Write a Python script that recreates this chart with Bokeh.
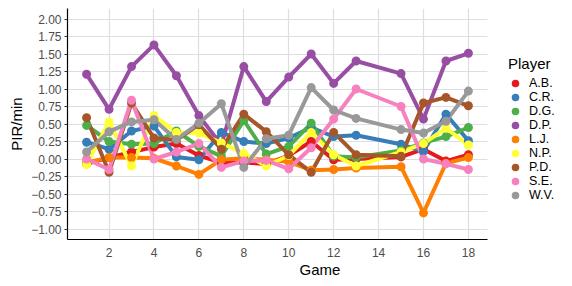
from bokeh.plotting import figure
from bokeh.models import Range1d, FixedTicker, Legend, LegendItem, BoxAnnotation
from bokeh.embed import file_html
from bokeh.resources import INLINE

# ---- data ----
games = [1, 2, 3, 4, 5, 6, 7, 8, 9, 10, 11, 12, 13, 15, 16, 17, 18]
players = ["A.B.", "C.R.", "D.G.", "D.P.", "L.J.", "N.P.", "P.D.", "S.E.", "W.V."]

ab = [-0.07, 0.02, 0.10, 0.17, 0.22, 0.05, -0.05, -0.05, -0.07, 0.05, 0.25, -0.01, 0.00, 0.03, 0.14, -0.03, 0.06]
cr = [0.24, 0.14, 0.40, 0.47, 0.03, -0.01, 0.38, 0.25, 0.22, 0.30, 0.45, 0.32, 0.34, 0.21, 0.11, 0.64, 0.26]
dg = [0.48, 0.25, 0.21, 0.22, 0.40, 0.18, 0.04, 0.55, 0.07, 0.18, 0.51, 0.04, 0.02, 0.12, 0.23, 0.32, 0.45]
dp = [1.21, 0.71, 1.32, 1.63, 1.19, 0.62, 0.20, 1.32, 0.82, 1.17, 1.50, 1.08, 1.40, 1.22, 0.57, 1.40, 1.51]
lj = [-0.05, 0.02, 0.02, 0.01, -0.10, -0.22, -0.01, 0.01, -0.01, -0.04, -0.16, -0.15, -0.13, -0.11, -0.77, -0.06, 0.02]
np_ = [-0.08, 0.53, -0.10, 0.62, 0.38, 0.37, 0.23, 0.08, -0.10, 0.05, 0.38, 0.06, -0.10, 0.10, 0.22, 0.44, 0.20]
pd_ = [0.59, -0.19, 0.80, 0.30, 0.27, 0.49, 0.14, 0.64, 0.39, 0.06, -0.19, 0.38, 0.06, 0.04, 0.80, 0.88, 0.76]
se = [0.00, -0.15, 0.84, 0.00, 0.10, 0.22, -0.12, -0.03, -0.02, -0.14, 0.16, 0.57, 1.00, 0.75, 0.00, -0.07, -0.15]
wv = [0.10, 0.39, 0.53, 0.56, 0.28, 0.51, 0.79, -0.12, 0.29, 0.34, 1.02, 0.70, 0.58, 0.42, 0.37, 0.54, 0.97]

series = [ab, cr, dg, dp, lj, np_, pd_, se, wv]
colors = ["#E41A1C", "#377EB8", "#4DAF4A", "#984EA3", "#FF7F00",
          "#FFFF33", "#A65628", "#F781BF", "#999999"]

x_ticks = [2, 4, 6, 8, 10, 12, 14, 16, 18]
y_ticks = [-1.0, -0.75, -0.5, -0.25, 0.0, 0.25, 0.5, 0.75, 1.0, 1.25, 1.5, 1.75, 2.0]
y_tick_labels = ["\u22121.00", "\u22120.75", "\u22120.50", "\u22120.25", "0.00", "0.25",
                 "0.50", "0.75", "1.00", "1.25", "1.50", "1.75", "2.00"]

FONT = "Liberation Sans"

W, LEFT = 572, 67
X0, X1 = 0.15, 18.85          # panel limits of the data area
PANEL_W = 420                 # data panel width in px
FRAME_W = W - LEFT            # frame spans to the right edge; legend sits in the extra room
x_end = X0 + (X1 - X0) * FRAME_W / PANEL_W

p = figure(width=W, height=280,
           x_range=Range1d(X0, x_end), y_range=Range1d(-1.15, 2.15),
           output_backend="svg", toolbar_location=None,
           min_border_left=LEFT, min_border_right=0,
           min_border_top=8, min_border_bottom=40,
           x_axis_label="Game", y_axis_label="PIR/min")
p.outline_line_color = None
p.background_fill_color = "white"
p.border_fill_color = "white"

p.xaxis.ticker = FixedTicker(ticks=x_ticks)
p.xaxis.bounds = (X0, X1)
p.yaxis.ticker = FixedTicker(ticks=y_ticks)
p.yaxis.major_label_overrides = dict(zip(y_ticks, y_tick_labels))

p.grid.grid_line_color = "#DDDDE2"
p.grid.grid_line_width = 1.2

# blank out the grid beyond the data panel (legend area)
p.add_layout(BoxAnnotation(left=X1, fill_color="white", fill_alpha=1,
                           line_color=None, level="underlay"))

p.axis.axis_line_color = "black"
p.axis.axis_line_width = 1.2
p.axis.minor_tick_line_color = None
p.xaxis.major_tick_line_color = None
p.xaxis.major_tick_out = 0
p.xaxis.major_label_standoff = 8
p.yaxis.major_tick_line_color = "#333333"
p.yaxis.major_tick_out = 3
p.yaxis.major_tick_in = 0
p.yaxis.major_label_standoff = 3
p.axis.major_label_text_font = FONT
p.axis.major_label_text_font_size = "12px"
p.axis.major_label_text_color = "#4D4D4D"
p.axis.axis_label_text_font = FONT
p.axis.axis_label_text_font_size = "15px"
p.axis.axis_label_text_font_style = "normal"
p.axis.axis_label_text_color = "black"
p.xaxis.axis_label_standoff = 1
p.yaxis.axis_label_standoff = 3

for ys, c in zip(series, colors):
    p.line(games, ys, line_color=c, line_width=4, line_join="round", line_cap="round")

items = []
for name, ys, c in zip(players, series, colors):
    r = p.scatter(games, ys, size=7, fill_color=c, line_color=c, line_width=2)
    items.append(LegendItem(label=name, renderers=[r]))

legend = Legend(items=items, title="Player", location=(441, 37))
legend.border_line_color = None
legend.background_fill_color = "white"
legend.background_fill_alpha = 1
legend.title_text_font = FONT
legend.title_text_font_size = "15px"
legend.title_text_font_style = "normal"
legend.title_text_color = "black"
legend.label_text_font = FONT
legend.label_text_font_size = "12.5px"
legend.label_text_color = "black"
legend.glyph_height = 14
legend.glyph_width = 14
legend.label_height = 14
legend.spacing = 0
legend.label_standoff = 7
legend.padding = 4
legend.margin = 0
legend.title_standoff = 4
p.add_layout(legend, "center")

open("out.html", "w").write(file_html(p, INLINE))
